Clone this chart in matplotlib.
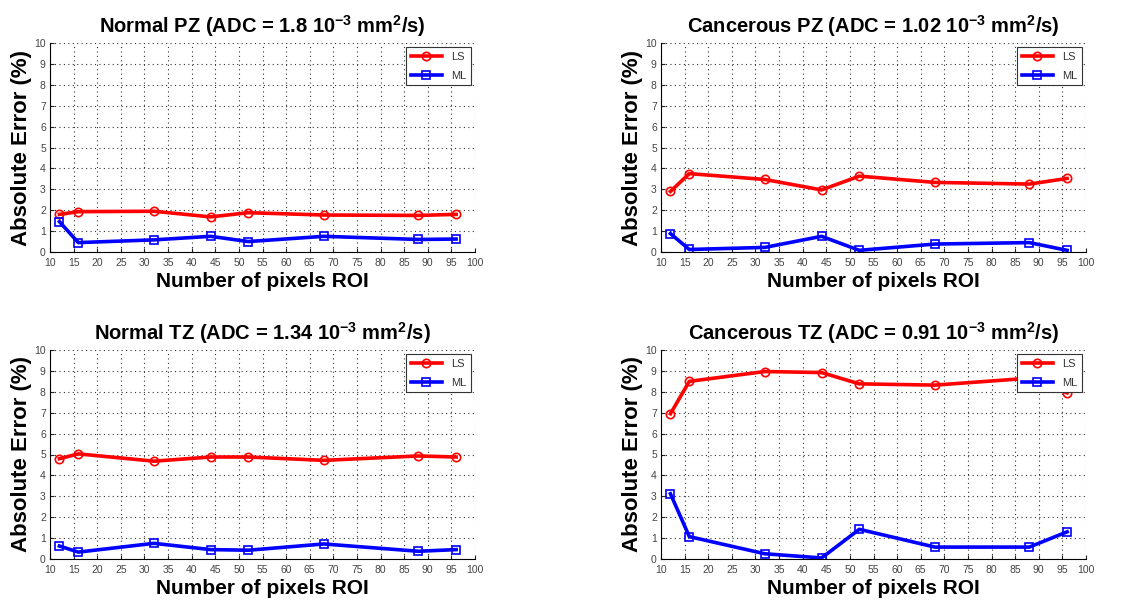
import numpy as np
import matplotlib
matplotlib.use("Agg")
import matplotlib.pyplot as plt

# ROI sizes (pixels) used for every zone
roi_pixels = [12, 16, 32, 44, 52, 68, 88, 96]

# Absolute error (%) of the least-squares and maximum-likelihood fits
npz_ls = [1.80, 1.93, 1.95, 1.68, 1.88, 1.77, 1.75, 1.80]
npz_ml = [1.45, 0.45, 0.58, 0.75, 0.50, 0.75, 0.60, 0.62]

cpz_ls = [2.90, 3.75, 3.47, 2.97, 3.63, 3.33, 3.25, 3.52]
cpz_ml = [0.88, 0.12, 0.22, 0.75, 0.08, 0.38, 0.45, 0.08]

ntz_ls = [4.80, 5.03, 4.68, 4.88, 4.88, 4.72, 4.93, 4.88]
ntz_ml = [0.62, 0.33, 0.75, 0.45, 0.42, 0.72, 0.37, 0.45]

ctz_ls = [6.95, 8.50, 8.97, 8.92, 8.38, 8.32, 8.65, 7.95]
ctz_ml = [3.12, 1.07, 0.25, 0.05, 1.42, 0.57, 0.57, 1.30]

titles = [
    r"Normal PZ (ADC = 1.8 10$^{\mathbf{-3}}$ mm$^{\mathbf{2}}$/s)",
    r"Cancerous PZ (ADC = 1.02 10$^{\mathbf{-3}}$ mm$^{\mathbf{2}}$/s)",
    r"Normal TZ (ADC = 1.34 10$^{\mathbf{-3}}$ mm$^{\mathbf{2}}$/s)",
    r"Cancerous TZ (ADC = 0.91 10$^{\mathbf{-3}}$ mm$^{\mathbf{2}}$/s)",
]
series = [(npz_ls, npz_ml), (cpz_ls, cpz_ml), (ntz_ls, ntz_ml), (ctz_ls, ctz_ml)]

plt.rcParams["font.family"] = ["Liberation Sans", "DejaVu Sans"]
plt.rcParams["mathtext.fontset"] = "custom"
plt.rcParams["mathtext.bf"] = "Liberation Sans:bold"
plt.rcParams["mathtext.rm"] = "Liberation Sans:bold"
plt.rcParams["mathtext.default"] = "bf"

fig = plt.figure(figsize=(11.48, 6.02), dpi=100)
W, H = 1148, 602
# axes boxes in pixel coordinates: (left, top, right, bottom)
boxes = [(50, 43, 475, 252), (661, 43, 1086, 252),
         (50, 350, 475, 559), (661, 350, 1086, 559)]

for (l, t, r, b), title, (ls, ml) in zip(boxes, titles, series):
    ax = fig.add_axes([l / W, 1 - b / H, (r - l) / W, (b - t) / H])
    ax.plot(roi_pixels, ls, color="#ff0000", lw=2.6, marker="o", ms=6,
            mfc="none", mec="#ff0000", mew=1.2, label="LS")
    ax.plot(roi_pixels, ml, color="#0000ff", lw=2.6, marker="s", ms=6,
            mfc="none", mec="#0000ff", mew=1.2, label="ML")
    ax.set_xlim(10, 100)
    ax.set_ylim(0, 10)
    ax.set_xticks(np.arange(10, 101, 5))
    ax.set_yticks(np.arange(0, 11, 1))
    ax.grid(True, color="#333333", linestyle=(0, (1, 3)), linewidth=0.8)
    ax.spines["top"].set_visible(False)
    ax.spines["right"].set_visible(False)
    ax.tick_params(direction="in", length=3, labelsize=7.5, colors="#222222",
                   labelcolor="#444444")
    ax.tick_params(axis="x", pad=4)
    ax.tick_params(axis="y", pad=3)
    ax.set_title(title, fontsize=14.5, fontweight="bold", pad=7)
    ax.set_xlabel("Number of pixels ROI", fontsize=15, fontweight="bold",
                  labelpad=3)
    ax.set_ylabel("Absolute Error (%)", fontsize=16, fontweight="bold")
    ax.yaxis.set_label_coords(-0.043, 0.5)
    leg = ax.legend(loc="upper right", fontsize=8, fancybox=False,
                    framealpha=1, edgecolor="#333333", handlelength=2.8,
                    borderaxespad=0.4, labelspacing=0.8, labelcolor="#333333")
    leg.get_frame().set_linewidth(0.8)

fig.savefig("out.png", dpi=100, facecolor="white")
